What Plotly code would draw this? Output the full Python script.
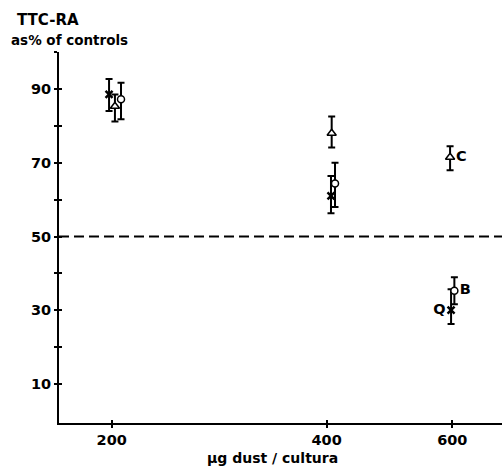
import plotly.graph_objects as go

# x positions (µg dust / cultura), slightly offset per series as in the figure
q_x = [198.3, 405.7, 597.6]
c_x = [202.1, 406.6, 595.7]
b_x = [206.1, 411.0, 604.0]

# TTC-RA as % of controls
q_y = [88.5, 61.0, 30.1]
c_y = [85.3, 78.0, 71.5]
b_y = [87.2, 64.4, 35.3]

# error (upper / lower)
q_up = [4.2, 5.4, 5.6]
q_dn = [4.5, 4.7, 3.8]
c_up = [3.2, 4.5, 3.0]
c_dn = [4.1, 3.9, 3.5]
b_up = [4.5, 5.6, 3.7]
b_dn = [5.4, 6.4, 3.6]

series_labels = {"Q": ["", "", "Q"], "C": ["", "", "C"], "B": ["", "", "B"]}

y_tickvals = [10, 20, 30, 40, 50, 60, 70, 80, 90, 100]
y_ticktext = ["10", "", "30", "", "50", "", "70", "", "90", ""]
x_tickvals = [200, 400, 600]
x_ticktext = ["200", "400", "600"]

FONT = "DejaVu Sans"
BOLD = dict(family=FONT, size=14, color="black", weight="bold")
TICKF = dict(family=FONT, size=14.5, color="black", weight="bold")

fig = go.Figure()

def err(up, dn):
    return dict(type="data", symmetric=False, array=up, arrayminus=dn,
                color="black", thickness=2, width=3.5)

fig.add_trace(go.Scatter(
    x=q_x, y=q_y, mode="markers+text", name="Q",
    marker=dict(symbol="x-thin", size=7, color="black",
                line=dict(width=2.5, color="black")),
    error_y=err(q_up, q_dn),
    text=series_labels["Q"], textposition="middle left",
    textfont=TICKF, cliponaxis=False,
))
fig.add_trace(go.Scatter(
    x=c_x, y=c_y, mode="markers+text", name="C",
    marker=dict(symbol="triangle-up", size=8, color="white",
                line=dict(color="black", width=1.5)),
    error_y=err(c_up, c_dn),
    text=series_labels["C"], textposition="middle right",
    textfont=TICKF, cliponaxis=False,
))
fig.add_trace(go.Scatter(
    x=b_x, y=b_y, mode="markers+text", name="B",
    marker=dict(symbol="circle", size=7, color="white",
                line=dict(color="black", width=1.5)),
    error_y=err(b_up, b_dn),
    text=series_labels["B"], textposition="middle right",
    textfont=TICKF, cliponaxis=False,
))

fig.add_hline(y=50, line=dict(color="black", width=2, dash="10px,5px"))

xr = [2.22721, 2.84775]
yr = [-0.5, 100]

fig.update_layout(
    width=502, height=466,
    margin=dict(l=59, r=0, t=52, b=43, autoexpand=False),
    paper_bgcolor="white", plot_bgcolor="white",
    showlegend=False,
    font=dict(family=FONT, size=14, color="black", weight="bold"),
    xaxis=dict(
        type="log", range=xr, tickvals=x_tickvals, ticktext=x_ticktext,
        automargin=False,
        showgrid=False, zeroline=False, showline=True, linecolor="black",
        linewidth=1.5, ticks="outside", ticklen=3, tickwidth=2,
        tickcolor="black", tickfont=TICKF,
    ),
    xaxis2=dict(
        type="log", range=xr, tickvals=x_tickvals, overlaying="x",
        anchor="y", side="bottom", showticklabels=False, showgrid=False,
        zeroline=False, showline=False, ticks="inside", ticklen=3,
        tickwidth=2, tickcolor="black", automargin=False,
    ),
    yaxis=dict(
        range=yr, tickvals=y_tickvals, ticktext=y_ticktext,
        automargin=False,
        showgrid=False, zeroline=False, showline=True, linecolor="black",
        linewidth=2, ticks="outside", ticklen=3, tickwidth=2,
        tickcolor="black", tickfont=TICKF,
    ),
    yaxis2=dict(
        range=yr, tickvals=y_tickvals, overlaying="y", anchor="x",
        side="left", showticklabels=False, showgrid=False, zeroline=False,
        showline=False, ticks="inside", ticklen=3, tickwidth=2,
        tickcolor="black", automargin=False,
    ),
    annotations=[
        dict(text="TTC-RA", xref="paper", yref="paper",
             x=-0.0993, y=1.086, xanchor="left", yanchor="middle",
             showarrow=False, font=dict(BOLD, size=15)),
        dict(text="as% of controls", xref="paper", yref="paper",
             x=-0.1129, y=1.0315, xanchor="left", yanchor="middle",
             showarrow=False, font=dict(BOLD, size=13.5)),
        dict(text="μg dust / cultura", xref="paper", yref="paper",
             x=0.481, y=-0.094, xanchor="center", yanchor="middle",
             showarrow=False, font=dict(BOLD, size=14)),
    ],
)

# invisible anchor trace so overlay axes render
fig.add_trace(go.Scatter(x=[300], y=[50], xaxis="x2", yaxis="y2",
                         mode="markers", marker=dict(opacity=0),
                         hoverinfo="skip", showlegend=False))

fig.write_html(
    "out.html",
    config={"displayModeBar": False},
    post_script="document.body.style.margin='0';document.body.style.overflow='hidden';",
)
